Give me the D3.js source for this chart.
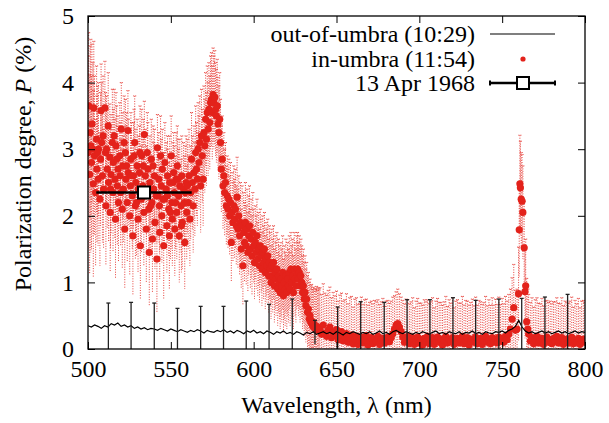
<!DOCTYPE html>
<html>
<head>
<meta charset="utf-8">
<script src="https://cdn.jsdelivr.net/npm/d3@7/dist/d3.min.js"></script>
<style>
body { margin: 0; background: #fff; }
</style>
</head>
<body>
<div id="chart"></div>
<script>
// out-of-umbra spectrum (10:29), every 2 nm
var outWl = [500,502,504,506,508,510,512,514,516,518,520,522,524,526,528,530,532,534,536,538,
  540,542,544,546,548,550,552,554,556,558,560,562,564,566,568,570,572,574,576,578,
  580,582,584,586,588,590,592,594,596,598,600,602,604,606,608,610,612,614,616,618,
  620,622,624,626,628,630,632,634,636,638,640,642,644,646,648,650,652,654,656,658,
  660,662,664,666,668,670,672,674,676,678,680,682,684,686,688,690,692,694,696,698,
  700,702,704,706,708,710,712,714,716,718,720,722,724,726,728,730,732,734,736,738,
  740,742,744,746,748,750,752,754,756,758,760,762,764,766,768,770,772,774,776,778,
  780,782,784,786,788,790,792,794,796,798,800];
var outP = [.35,.33,.36,.34,.31,.35,.33,.38,.36,.39,.34,.36,.33,.35,.31,.33,.30,.32,.29,.31,
  .30,.28,.31,.29,.27,.30,.28,.26,.29,.27,.25,.28,.26,.29,.27,.24,.28,.26,.25,.28,
  .26,.29,.25,.27,.24,.28,.26,.23,.27,.25,.28,.24,.26,.23,.27,.25,.22,.26,.24,.27,
  .23,.25,.22,.26,.24,.21,.25,.23,.26,.22,.24,.26,.23,.25,.22,.26,.24,.21,.25,.23,
  .26,.24,.22,.25,.23,.26,.22,.24,.27,.23,.25,.22,.26,.28,.25,.23,.26,.24,.22,.25,
  .23,.26,.24,.22,.25,.27,.23,.25,.22,.26,.24,.23,.26,.22,.25,.24,.27,.23,.25,.22,
  .26,.24,.23,.26,.25,.27,.24,.28,.30,.34,.43,.33,.27,.24,.26,.23,.25,.27,.24,.26,
  .23,.25,.27,.24,.26,.23,.25,.27,.24,.26,.25];

// out-of-umbra error bars: [wavelength, P, error]
var outBars = [[512.3,.33,.36],[526,.35,.35],[540,.30,.39],[554,.26,.35],[568,.27,.37],
  [581.8,.27,.37],[595.5,.26,.46],[609.3,.25,.42],[623.3,.24,.51],[637,.25,.18],
  [650.7,.24,.39],[664.6,.24,.47],[678.8,.24,.46],[692.6,.25,.49],[706.4,.24,.50],
  [720.3,.24,.53],[734,.24,.49],[748,.25,.50],[761.8,.33,.43],[775.8,.25,.53],[789.5,.25,.57]];

// in-umbra (11:54): [wavelength, P, error]
var inBlue = [[500.1,2.95,1.45],[500.4,3.65,1.1],[501.0,2.62,1.5],[501.7,3.05,1.6],[502.1,2.8,1.3],
  [502.4,3.38,1.2],[503.2,2.48,1.4],[503.5,3.62,1.0],[503.9,2.9,1.2],[504.6,2.35,1.1],
  [505.2,3.15,1.1],[505.4,2.7,1.1],[506.1,2.55,1.0],[506.3,3.0,1.0],[507.2,2.25,1.0],
  [507.6,2.85,1.0],[507.9,3.58,0.7],[508.7,2.6,1.0],[509.1,3.2,0.9],[509.4,2.4,0.9],
  [510.2,3.62,0.7],[510.6,2.95,0.9],[510.8,2.15,0.9],[511.6,2.7,0.9],[512.2,3.35,0.8],
  [512.4,2.5,0.9],[513.2,2.88,0.8],[513.4,2.05,0.9],[513.9,2.62,0.9],[514.7,3.1,0.8],
  [515.1,2.35,0.9],[515.3,2.8,0.8],[516.2,2.55,0.9],[516.6,1.95,0.9],[516.9,3.05,0.8],
  [517.7,2.45,0.9],[518.1,2.7,0.8],[518.4,2.2,0.9],[519.2,2.9,0.8],[519.4,2.6,0.8],
  [520.1,3.3,0.7],[520.7,2.1,0.9],[521.0,2.75,0.8],[521.3,2.4,0.8],[522.2,1.8,0.9],
  [522.6,2.95,0.8],[522.9,2.55,0.8],[523.7,2.2,0.9],[524.1,3.28,0.6],[524.3,2.65,0.8],
  [525.2,2.0,0.9],[525.6,2.45,0.8],[525.9,2.85,0.7],[526.7,2.3,0.8],[527.1,1.7,0.9],
  [527.4,2.6,0.8],[528.2,3.1,0.7],[528.6,2.15,0.8],[528.9,2.5,0.8],[529.7,2.75,0.7],
  [530.2,1.95,0.8],[530.4,2.4,0.8],[531.1,2.65,0.7],[531.6,1.55,0.8],[532.2,2.25,0.8],
  [532.4,2.9,0.7],[533.1,2.45,0.7],[533.7,2.05,0.8],[534.0,3.22,0.5],[534.6,2.6,0.7],
  [535.2,1.8,0.8],[535.3,2.35,0.7],[536.1,2.7,0.7],[536.7,2.1,0.7],[537.0,1.45,0.8],
  [537.4,2.5,0.7],[538.2,2.85,0.6],[538.6,2.2,0.7],[538.9,1.65,0.8],[539.7,2.4,0.7],
  [540.1,2.6,0.7],[540.4,1.9,0.7],[541.2,2.3,0.7],[541.6,1.35,0.8],[541.9,3.02,0.5],
  [542.7,2.55,0.7],[543.1,2.15,0.7],[543.3,1.75,0.7],[544.2,2.45,0.7],[544.6,2.0,0.7],
  [544.9,2.7,0.6],[545.7,1.55,0.8],[546.1,2.25,0.7],[546.4,2.8,0.6],[547.2,2.4,0.7],
  [547.6,1.85,0.7],[548.0,2.6,0.6],[548.7,2.1,0.7],[549.1,1.7,0.8],[549.3,2.5,0.7],
  [550.2,2.9,0.6],[550.6,2.2,0.7],[550.9,1.95,0.7],[551.7,2.65,0.6],[552.1,2.35,0.7],
  [552.4,1.8,0.7],[553.2,2.55,0.7],[553.6,2.05,0.7],[553.9,2.75,0.6],[554.7,2.3,0.7],
  [555.1,1.7,0.7],[555.4,2.45,0.7],[556.2,2.15,0.7],[556.6,2.6,0.6],[556.9,1.9,0.7],
  [557.7,2.4,0.7],[558.1,2.2,0.7],[558.4,1.6,0.7],[559.2,2.5,0.7],[559.6,2.05,0.7]];

var inBlueB = [[501.3,3.25,1.3],[503.0,3.0,1.3],[505.8,2.95,1.0],[508.3,3.1,0.9],[511.2,3.0,0.8],
  [513.6,2.4,0.9],[515.8,3.2,0.7],[517.3,2.85,0.8],[519.7,2.35,0.8],[521.8,3.1,0.7],
  [523.3,2.75,0.8],[526.2,2.6,0.8],[527.8,2.9,0.7],[529.3,2.2,0.8],[531.4,2.95,0.7],
  [533.4,2.75,0.7],[535.8,2.95,0.6],[537.8,2.15,0.7],[539.3,2.75,0.6],[542.3,2.3,0.7],
  [543.8,2.9,0.6],[545.3,2.25,0.7],[547.9,2.3,0.7],[549.8,2.05,0.7],[551.3,2.5,0.6],
  [552.8,2.2,0.7],[554.3,2.55,0.6],[556.4,1.85,0.7],[558.7,2.35,0.7]];

var inPeak = [[560,2.45,0.7],[560.5,2.2,0.7],[561,2.6,0.7],[561.5,1.95,0.7],[562,2.35,0.7],
  [562.5,2.85,0.7],[563,2.5,0.7],[563.5,2.15,0.7],[564,2.65,0.7],[564.5,2.4,0.7],
  [565,2.95,0.7],[565.5,2.7,0.7],[566,2.55,0.7],[566.5,3.0,0.7],[567,2.8,0.7],
  [567.5,3.1,0.7],[568,2.45,0.7],[568.5,3.2,0.7],[569,2.9,0.7],[569.5,2.55,0.7],
  [570,3.25,0.7],[570.5,3.05,0.7],[571,3.45,0.7],[571.5,3.15,0.7],[572,3.55,0.7],
  [572.5,3.3,0.7],[573,3.6,0.7],[573.5,3.4,0.7],[574,3.7,0.7],[574.5,3.75,0.7],
  [575,3.55,0.7],[575.5,3.82,0.7],[576,3.7,0.7],[576.5,3.78,0.7],[577,3.6,0.7],
  [577.5,3.5,0.7],[578,3.65,0.7],[578.5,3.38,0.7],[579,3.25,0.7],[579.5,3.45,0.7],
  [580,3.1,0.65],[580.5,2.7,0.65],[581,2.85,0.65],[581.5,2.45,0.65],[582,2.6,0.65],
  [582.5,2.35,0.65],[583,2.5,0.6],[583.5,2.15,0.6],[584,2.3,0.6],[584.5,2.1,0.6],
  [585,2.25,0.6],[585.5,2.0,0.6],[586,2.2,0.6],[586.5,1.6,0.6],[587,2.05,0.6],
  [587.5,1.9,0.6],[588,2.15,0.6],[588.5,1.95,0.6],[589,2.1,0.6],[589.5,1.85,0.6],
  [590,2.28,0.6],[590.5,1.8,0.6],[591,2.0,0.6],[591.5,1.7,0.6],[592,1.9,0.6],
  [592.5,1.5,0.6],[593,1.85,0.6],[593.5,1.25,0.6],[594,1.75,0.6],[594.5,1.6,0.6],
  [595,1.9,0.6],[595.5,1.55,0.6],[596,1.8,0.6],[596.5,1.45,0.6],[597,1.7,0.6],
  [597.5,1.85,0.6],[598,1.5,0.6],[598.5,1.65,0.6],[599,1.4,0.6],[599.5,1.75,0.6],
  [600,1.55,0.55],[600.5,1.3,0.55],[601,1.6,0.55],[601.5,1.45,0.55],[602,1.7,0.55],
  [602.5,1.35,0.55],[603,1.5,0.55],[603.5,1.25,0.55],[604,1.55,0.55],[604.5,1.4,0.55],
  [605,1.2,0.55],[605.5,1.45,0.55],[606,1.3,0.55],[606.5,1.5,0.55],[607,1.15,0.55],
  [607.5,1.35,0.55],[608,1.25,0.55],[608.5,1.4,0.55],[609,1.1,0.55],[609.5,1.3,0.55],
  [610,1.2,0.55],[610.5,1.0,0.55],[611,1.25,0.55],[611.5,1.1,0.55],[612,1.3,0.55],
  [612.5,0.95,0.55],[613,1.15,0.55],[613.5,1.05,0.55],[614,1.2,0.55],[614.5,0.9,0.55],
  [615,1.1,0.55],[615.5,1.0,0.55],[616,0.85,0.55],[616.5,1.05,0.55],[617,0.95,0.55],
  [617.5,1.15,0.55],[618,0.8,0.55],[618.5,1.0,0.55],[619,0.9,0.55],[619.5,1.1,0.55],
  [620,0.85,0.55],[620.5,1.05,0.55],[621,0.95,0.55],[621.5,1.15,0.55],[622,0.9,0.55],
  [622.5,1.2,0.55],[623,1.0,0.55],[623.5,1.1,0.55],[624,0.85,0.55],[624.5,1.2,0.55],
  [625,1.05,0.55],[625.5,0.95,0.55],[626,1.15,0.55],[626.5,1.2,0.55],[627,1.05,0.55],
  [627.5,1.15,0.55],[628,0.95,0.55],[628.5,1.1,0.55],[629,1.0,0.55],[629.5,0.85,0.55],
  [630,0.95,0.55],[630.5,0.75,0.55],[631,0.85,0.55],[631.5,0.65,0.55],[632,0.75,0.55],
  [632.5,0.55,0.55],[633,0.6,0.55],[633.5,0.45,0.55],[634,0.5,0.55],[634.5,0.4,0.55],
  [635,0.42,0.55],[635.5,0.35,0.55],[636,0.38,0.55],[636.5,0.32,0.55],[637,0.36,0.55],
  [637.5,0.3,0.6],[638,0.34,0.6],[638.5,0.28,0.6],[639,0.32,0.6],[639.5,0.3,0.6]];

var inRed = [[640,0.30,0.62],[641,0.22,0.6],[642,0.36,0.62],[643,0.24,0.6],[644,0.19,0.62],
  [645,0.28,0.6],[646,0.33,0.6],[647,0.17,0.6],[648,0.25,0.6],[649,0.20,0.6],
  [650,0.29,0.58],[651,0.14,0.58],[652,0.21,0.6],[653,0.26,0.58],[654,0.12,0.6],
  [655,0.19,0.55],[656,0.23,0.6],[657,0.10,0.58],[658,0.17,0.6],[659,0.21,0.58],
  [660,0.08,0.55],[661,0.15,0.6],[662,0.19,0.58],[663,0.07,0.6],[664,0.13,0.55],
  [665,0.18,0.6],[666,0.09,0.58],[667,0.14,0.6],[668,0.20,0.55],[669,0.06,0.6],
  [670,0.12,0.58],[671,0.17,0.55],[672,0.08,0.6],[673,0.15,0.58],[674,0.11,0.6],
  [675,0.19,0.55],[676,0.07,0.6],[677,0.13,0.58],[678,0.16,0.6],[679,0.09,0.55],
  [680,0.14,0.58],[681,0.18,0.55],[682,0.11,0.58],[683,0.17,0.55],[684,0.23,0.55],
  [685,0.30,0.5],[686,0.36,0.5],[687,0.38,0.52],[688,0.33,0.5],[689,0.26,0.52],
  [690,0.18,0.55],[691,0.10,0.58],[692,0.15,0.6],[693,0.19,0.55],[694,0.08,0.6],
  [695,0.13,0.58],[696,0.17,0.6],[697,0.07,0.55],[698,0.12,0.6],[699,0.18,0.58],
  [700,0.09,0.6],[701,0.14,0.55],[702,0.06,0.6],[703,0.16,0.58],[704,0.11,0.6],
  [705,0.19,0.55],[706,0.08,0.6],[707,0.13,0.58],[708,0.17,0.6],[709,0.07,0.55],
  [710,0.12,0.6],[711,0.18,0.58],[712,0.10,0.6],[713,0.15,0.55],[714,0.06,0.6],
  [715,0.13,0.58],[716,0.19,0.6],[717,0.09,0.55],[718,0.14,0.6],[719,0.11,0.58],
  [720,0.17,0.6],[721,0.07,0.55],[722,0.12,0.6],[723,0.16,0.58],[724,0.09,0.6],
  [725,0.14,0.55],[726,0.19,0.6],[727,0.08,0.58],[728,0.13,0.6],[729,0.17,0.55],
  [730,0.06,0.6],[731,0.12,0.58],[732,0.15,0.6],[733,0.10,0.55],[734,0.18,0.6],
  [735,0.08,0.58],[736,0.13,0.6],[737,0.16,0.55],[738,0.07,0.6],[739,0.12,0.58],
  [740,0.19,0.6],[741,0.10,0.55],[742,0.14,0.6],[743,0.08,0.58],[744,0.17,0.6],
  [745,0.11,0.55],[746,0.15,0.6],[747,0.09,0.58],[748,0.18,0.6],[749,0.12,0.55],
  [750,0.16,0.6],[751,0.10,0.58],[752,0.19,0.6],[753,0.14,0.58],[754,0.22,0.6],
  [755,0.30,0.6],[756,0.45,0.62],[757,0.62,0.65],[758,0.28,0.6],[759,0.30,0.6],
  [759.9,0.83,0.7],[760.3,1.79,0.7],[760.7,2.48,0.73],[761,2.42,0.7],[761.5,2.25,0.7],
  [762,2.22,0.7],[762.5,2.05,0.7],[763.3,1.52,0.7],[763.8,0.86,0.7],[764.2,0.95,0.7],
  [764.8,0.41,0.65],[765.5,0.30,0.6],[766,0.22,0.6],[767,0.12,0.58],[768,0.17,0.6],
  [769,0.08,0.55],[770,0.14,0.6],[771,0.19,0.58],[772,0.09,0.6],[773,0.13,0.55],
  [774,0.16,0.6],[775,0.07,0.58],[776,0.12,0.6],[777,0.18,0.55],[778,0.10,0.6],
  [779,0.14,0.58],[780,0.08,0.6],[781,0.16,0.55],[782,0.11,0.6],[783,0.19,0.58],
  [784,0.09,0.6],[785,0.13,0.55],[786,0.17,0.6],[787,0.07,0.58],[788,0.12,0.6],
  [789,0.15,0.55],[790,0.09,0.6],[791,0.14,0.58],[792,0.18,0.6],[793,0.08,0.55],
  [794,0.13,0.6],[795,0.10,0.58],[796,0.16,0.6],[797,0.07,0.55],[798,0.12,0.6],
  [799,0.15,0.58],[800,0.10,0.6]];

// 13 Apr 1968: [wavelength, P, wavelength half-width]
var apr1968 = [[533.8, 2.35, 28.8]];

var xTicks = [500, 550, 600, 650, 700, 750, 800];
var yTicks = [0, 1, 2, 3, 4, 5];

var legendLabels = ["out-of-umbra (10:29)", "in-umbra (11:54)", "13 Apr 1968"];

var RED = "#e3221b";
var FONT = "'Liberation Serif'";

function polBasics() {
	var margin = {top: 16, right: 24, bottom: 74, left: 88},
	    width = 609 - margin.left - margin.right,
	    height = 423 - margin.top - margin.bottom;
	return {margin: margin, width: width, height: height};
}

function polChart() {
	var basics = polBasics();
	var margin = basics.margin,
	    width = basics.width,
	    height = basics.height;

	var svg = d3.select("#chart").append("svg")
	    .attr("width", 609)
	    .attr("height", 423)
	    .attr("font-family", "Liberation Serif");

	var plot = svg.append("g")
	    .attr("transform", "translate(" + margin.left + "," + margin.top + ")");

	var x = d3.scaleLinear().domain([500, 800]).range([0, width]);
	var y = d3.scaleLinear().domain([0, 5]).range([height, 0]);

	plot.append("clipPath").attr("id", "clip")
	    .append("rect").attr("width", width).attr("height", height);

	var inner = plot.append("g").attr("clip-path", "url(#clip)");

	var inUmbra = inBlue.concat(inBlueB, inPeak, inRed);

	/* red dotted error bars */
	var rb = inner.append("g")
	    .attr("stroke", RED)
	    .attr("stroke-width", 1)
	    .attr("opacity", 0.85);
	rb.selectAll("line.bar").data(inUmbra).enter().append("line")
	    .attr("class", "bar")
	    .attr("x1", function(d) { return x(d[0]); })
	    .attr("x2", function(d) { return x(d[0]); })
	    .attr("y1", function(d) { return y(d[1] + d[2]); })
	    .attr("y2", function(d) { return y(d[1] - d[2]); })
	    .attr("stroke-dasharray", "1,1.5");
	rb.selectAll("line.cap").data(inUmbra).enter().append("line")
	    .attr("class", "cap")
	    .attr("x1", function(d) { return x(d[0]) - 1.5; })
	    .attr("x2", function(d) { return x(d[0]) + 1.5; })
	    .attr("y1", function(d) { return y(d[1] + d[2]); })
	    .attr("y2", function(d) { return y(d[1] + d[2]); })
	    .attr("stroke-dasharray", "1,1");

	/* red points */
	inner.append("g").selectAll("circle").data(inUmbra).enter().append("circle")
	    .attr("cx", function(d) { return x(d[0]); })
	    .attr("cy", function(d) { return y(d[1]); })
	    .attr("r", 3.6)
	    .attr("fill", RED);

	/* out-of-umbra line */
	var line = d3.line()
	    .x(function(d, i) { return x(outWl[i]); })
	    .y(function(d) { return y(d); });
	inner.append("path")
	    .datum(outP)
	    .attr("d", line)
	    .attr("fill", "none")
	    .attr("stroke", "#000")
	    .attr("stroke-width", 1.2);

	/* out-of-umbra error bars */
	var ob = inner.append("g").attr("stroke", "#222").attr("stroke-width", 1.3);
	ob.selectAll("line.bar").data(outBars).enter().append("line")
	    .attr("x1", function(d) { return x(d[0]); })
	    .attr("x2", function(d) { return x(d[0]); })
	    .attr("y1", function(d) { return y(d[1] + d[2]); })
	    .attr("y2", function(d) { return y(d[1] - d[2]); });
	ob.selectAll("line.cap").data(outBars).enter().append("line")
	    .attr("x1", function(d) { return x(d[0]) - 2; })
	    .attr("x2", function(d) { return x(d[0]) + 2; })
	    .attr("y1", function(d) { return y(d[1] + d[2]); })
	    .attr("y2", function(d) { return y(d[1] + d[2]); });

	/* 13 Apr 1968 */
	var ap = inner.append("g");
	ap.selectAll("line").data(apr1968).enter().append("line")
	    .attr("x1", function(d) { return x(d[0] - d[2]); })
	    .attr("x2", function(d) { return x(d[0] + d[2]); })
	    .attr("y1", function(d) { return y(d[1]); })
	    .attr("y2", function(d) { return y(d[1]); })
	    .attr("stroke", "#000")
	    .attr("stroke-width", 2.5);
	ap.selectAll("rect").data(apr1968).enter().append("rect")
	    .attr("x", function(d) { return x(d[0]) - 6; })
	    .attr("y", function(d) { return y(d[1]) - 6; })
	    .attr("width", 12).attr("height", 12)
	    .attr("fill", "#fff")
	    .attr("stroke", "#000")
	    .attr("stroke-width", 2);

	/* axes, ticks inward on all sides */
	var fontSize = "24px";
	plot.append("g")
	    .attr("transform", "translate(0," + height + ")")
	    .call(d3.axisBottom(x).tickValues(xTicks).tickFormat(d3.format("d"))
	        .tickSizeInner(-7).tickSizeOuter(0).tickPadding(11));
	plot.append("g")
	    .call(d3.axisTop(x).tickValues(xTicks).tickSizeInner(-7).tickSizeOuter(0).tickFormat(""));
	plot.append("g")
	    .call(d3.axisLeft(y).tickValues(yTicks).tickFormat(d3.format("d"))
	        .tickSizeInner(-7).tickSizeOuter(0).tickPadding(14));
	plot.append("g")
	    .attr("transform", "translate(" + width + ",0)")
	    .call(d3.axisRight(y).tickValues(yTicks).tickSizeInner(-7).tickSizeOuter(0).tickFormat(""));
	plot.selectAll(".domain").remove();
	plot.selectAll(".tick line").attr("stroke", "#000").attr("stroke-width", 1);
	plot.selectAll(".tick text")
	    .attr("fill", "#000")
	    .style("font-family", FONT)
	    .style("font-size", fontSize);

	plot.append("rect")
	    .attr("width", width)
	    .attr("height", height)
	    .attr("fill", "none")
	    .attr("stroke", "#000")
	    .attr("stroke-width", 1.3);

	/* axis titles */
	svg.append("text")
	    .attr("x", margin.left + width / 2)
	    .attr("y", 413)
	    .attr("text-anchor", "middle")
	    .style("font-family", FONT)
	    .style("font-size", fontSize)
	    .text("Wavelength, \u03bb (nm)");

	var yt = svg.append("text")
	    .attr("transform", "translate(31,164) rotate(-90)")
	    .attr("text-anchor", "middle")
	    .style("font-family", FONT)
	    .style("font-size", fontSize);
	yt.append("tspan").text("Polarization degree, ");
	yt.append("tspan").style("font-style", "italic").text("P");
	yt.append("tspan").text(" (%)");

	/* legend */
	var lg = svg.append("g");
	var rows = [34, 59, 83];
	lg.selectAll("text").data(legendLabels).enter().append("text")
	    .attr("x", 475)
	    .attr("y", function(d, i) { return rows[i] + 8; })
	    .attr("text-anchor", "end")
	    .style("font-family", FONT)
	    .style("font-size", fontSize)
	    .text(function(d) { return d; });
	lg.append("line")
	    .attr("x1", 490).attr("x2", 555)
	    .attr("y1", rows[0]).attr("y2", rows[0])
	    .attr("stroke", "#000").attr("stroke-width", 1.2);
	lg.append("circle")
	    .attr("cx", 523).attr("cy", rows[1]).attr("r", 2.6)
	    .attr("fill", RED);
	lg.append("line")
	    .attr("x1", 490).attr("x2", 555)
	    .attr("y1", rows[2]).attr("y2", rows[2])
	    .attr("stroke", "#000").attr("stroke-width", 2.5);
	lg.selectAll("line.capl").data([490, 555]).enter().append("line")
	    .attr("x1", function(d) { return d; }).attr("x2", function(d) { return d; })
	    .attr("y1", rows[2] - 2.5).attr("y2", rows[2] + 2.5)
	    .attr("stroke", "#000").attr("stroke-width", 2);
	lg.append("rect")
	    .attr("x", 523 - 6).attr("y", rows[2] - 6)
	    .attr("width", 12).attr("height", 12)
	    .attr("fill", "#fff").attr("stroke", "#000").attr("stroke-width", 2);
}
polChart();
</script>
</body>
</html>
